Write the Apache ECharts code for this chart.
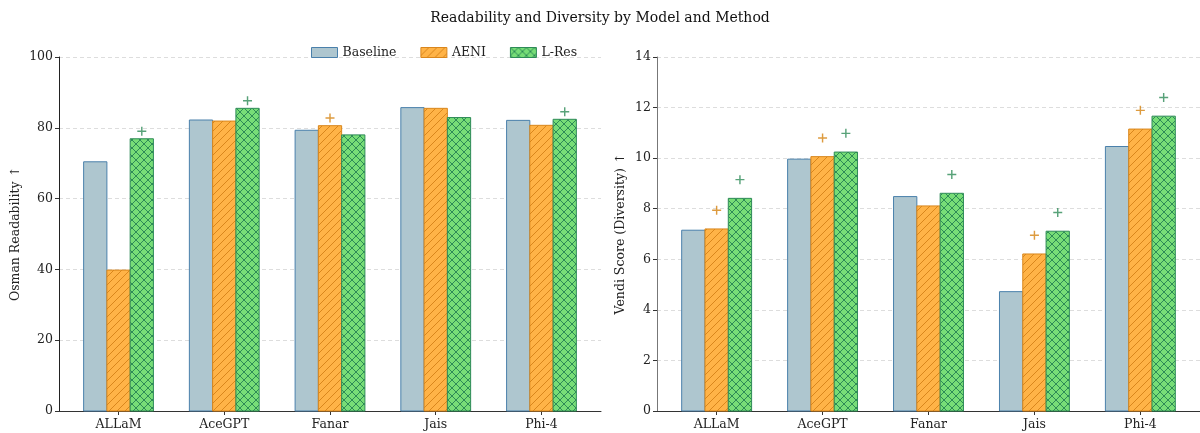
<!DOCTYPE html>
<html>
<head>
<meta charset="utf-8">
<script src="https://cdn.jsdelivr.net/npm/echarts@6/dist/echarts.min.js"></script>
<style>
html,body{margin:0;padding:0;background:#fff;}
#chart{width:1200px;height:433px;}
</style>
</head>
<body>
<div id="chart"></div>
<script>
// ---- data ----
const models = ['ALLaM', 'AceGPT', 'Fanar', 'Jais', 'Phi-4'];
const methods = ['Baseline', 'AENI', 'L-Res'];

const readBaseline = [70.4, 82.2, 79.3, 85.7, 82.1];
const readAENI     = [39.8, 81.9, 80.6, 85.5, 80.7];
const readLRes     = [76.9, 85.5, 78.0, 82.9, 82.4];

const vendiBaseline = [7.15, 9.96, 8.48, 4.72, 10.46];
const vendiAENI     = [7.20, 10.06, 8.11, 6.21, 11.15];
const vendiLRes     = [8.41, 10.24, 8.61, 7.11, 11.66];

// significance flags (+ marker above bar)
const readSigAENI  = [0, 0, 1, 0, 0];
const readSigLRes  = [1, 1, 0, 0, 1];
const vendiSigAENI = [1, 1, 0, 1, 1];
const vendiSigLRes = [1, 1, 1, 1, 1];

const readTicks = [0, 20, 40, 60, 80, 100];
const vendiTicks = [0, 2, 4, 6, 8, 10, 12, 14];

// ---- styles ----
const FONT = 'DejaVu Serif';
const FS = 12.5;
const fills = ['#aec6cf', '#ffb347', '#77dd77'];
const edges = ['#4a80ab', '#d9861c', '#2e8b57'];
const markerColors = ['#4a80ab', '#d4820f', '#2e8b57'];
const BW = 0.22;

function makePattern(fill, line, kind) {
  const s = 8;
  const c = document.createElement('canvas');
  c.width = s; c.height = s;
  const g = c.getContext('2d');
  g.fillStyle = fill; g.fillRect(0, 0, s, s);
  if (kind) {
    g.strokeStyle = line; g.lineWidth = 1;
    g.beginPath();
    g.moveTo(-1, s + 1); g.lineTo(s + 1, -1);
    g.moveTo(-1, 1); g.lineTo(1, -1);
    g.moveTo(s - 1, s + 1); g.lineTo(s + 1, s - 1);
    if (kind === 'x') {
      g.moveTo(-1, -1); g.lineTo(s + 1, s + 1);
      g.moveTo(s - 1, -1); g.lineTo(s + 1, 1);
      g.moveTo(-1, s - 1); g.lineTo(1, s + 1);
    }
    g.stroke();
  }
  return c;
}
const patterns = [
  fills[0],
  { image: makePattern(fills[1], edges[1], '/'), repeat: 'repeat' },
  { image: makePattern(fills[2], edges[2], 'x'), repeat: 'repeat' }
];

const PLUS = 'path://M4.2,0H5.8V4.2H10V5.8H5.8V10H4.2V5.8H0V4.2H4.2Z';

function barSeries(name, k, values, gi) {
  return {
    type: 'custom', name: name, xAxisIndex: gi, yAxisIndex: gi,
    itemStyle: { color: patterns[k], borderColor: edges[k], borderWidth: 1 },
    data: values.map((v, i) => [i + (k - 1) * BW, v]),
    renderItem: function (params, api) {
      const x = api.value(0), y = api.value(1);
      const p0 = api.coord([x - BW / 2, y]);
      const p1 = api.coord([x + BW / 2, 0]);
      return {
        type: 'rect',
        shape: { x: p0[0], y: p0[1], width: p1[0] - p0[0], height: p1[1] - p0[1] },
        style: { fill: patterns[k], stroke: edges[k], lineWidth: 1 }
      };
    },
    z: 3
  };
}
function markerSeries(k, values, flags, pad, gi) {
  const d = [];
  values.forEach((v, i) => { if (flags[i]) d.push([i + (k - 1) * BW, v + pad]); });
  return {
    type: 'scatter', xAxisIndex: gi, yAxisIndex: gi, symbol: PLUS, symbolSize: 9,
    itemStyle: { color: markerColors[k] }, data: d, silent: true, z: 5
  };
}

function xAxis(gi) {
  return {
    type: 'value', gridIndex: gi, min: -0.563, max: 4.563,
    axisLine: { show: true, onZero: false, lineStyle: { color: '#333', width: 1 } },
    axisTick: { show: true, length: 4, lineStyle: { color: '#333' }, customValues: [0, 1, 2, 3, 4] },
    axisLabel: {
      customValues: [0, 1, 2, 3, 4], formatter: v => models[Math.round(v)],
      fontFamily: FONT, fontSize: FS, color: '#222', margin: 7
    },
    splitLine: { show: false }
  };
}
function yAxis(gi, ticks, name, gap, lineColor) {
  return {
    type: 'value', gridIndex: gi, min: ticks[0], max: ticks[ticks.length - 1],
    interval: ticks[1] - ticks[0],
    name: name, nameLocation: 'middle', nameGap: gap,
    nameTextStyle: { fontFamily: FONT, fontSize: FS, color: '#222' },
    axisLine: { show: true, onZero: false, lineStyle: { color: lineColor, width: 1 } },
    axisTick: { show: true, length: 4, lineStyle: { color: '#333' } },
    axisLabel: { fontFamily: FONT, fontSize: FS, color: '#222', margin: 6 },
    splitLine: { show: true, lineStyle: { color: '#dddddd', type: [4, 3], width: 1 } }
  };
}

const chart = echarts.init(document.getElementById('chart'), null, { renderer: 'canvas' });
chart.setOption({
  animation: false,
  backgroundColor: '#fff',
  title: {
    text: 'Readability and Diversity by Model and Method', left: 'center', top: 6,
    textStyle: { fontFamily: FONT, fontSize: 14, fontWeight: 'normal', color: '#111' }
  },
  legend: {
    left: 306, top: 41, itemWidth: 26, itemHeight: 10, itemGap: 24,
    textStyle: { fontFamily: FONT, fontSize: FS, color: '#222' },
    data: methods.map((m, k) => ({
      name: m, icon: 'rect',
      itemStyle: { color: patterns[k], borderColor: edges[k], borderWidth: 1 }
    }))
  },
  grid: [
    { left: 59, right: 599, top: 57, bottom: 22 },
    { left: 657, right: 0, top: 57, bottom: 22 }
  ],
  xAxis: [xAxis(0), xAxis(1)],
  yAxis: [
    yAxis(0, readTicks, 'Osman Readability ↑', 37, '#222'),
    yAxis(1, vendiTicks, 'Vendi Score (Diversity) ↑', 30, '#777')
  ],
  series: [
    barSeries('Baseline', 0, readBaseline, 0),
    barSeries('AENI', 1, readAENI, 0),
    barSeries('L-Res', 2, readLRes, 0),
    barSeries('Baseline', 0, vendiBaseline, 1),
    barSeries('AENI', 1, vendiAENI, 1),
    barSeries('L-Res', 2, vendiLRes, 1),
    markerSeries(1, readAENI, readSigAENI, 2.15, 0),
    markerSeries(2, readLRes, readSigLRes, 2.15, 0),
    markerSeries(1, vendiAENI, vendiSigAENI, 0.74, 1),
    markerSeries(2, vendiLRes, vendiSigLRes, 0.74, 1)
  ]
});
</script>
</body>
</html>
